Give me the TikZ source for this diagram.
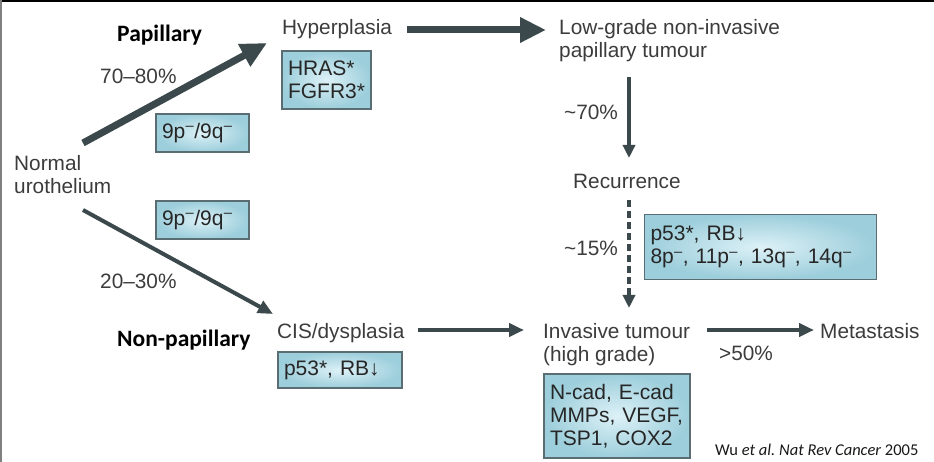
\documentclass[tikz,border=0pt]{standalone}
\usepackage{fontspec}
\setmainfont{Liberation Sans}
\newfontfamily\calfont{Carlito}
\usetikzlibrary{arrows.meta}
\definecolor{txt}{HTML}{3C3C3C}
\definecolor{arr}{HTML}{3B484C}
\definecolor{boxline}{HTML}{5A6D72}
\definecolor{boxin}{HTML}{DDF1F7}
\definecolor{boxout}{HTML}{9CCEDB}
\newcommand\supm{\textsuperscript{\kern0.3pt–}}
\tikzset{
  lbl/.style={font=\fontsize{20.8}{23}\selectfont, text=txt, inner sep=0pt, align=left, anchor=base west},
  bold/.style={font=\calfont\bfseries\fontsize{23.5}{26}\selectfont, text=black, inner sep=0pt, anchor=base west},
  gbox/.style={draw=boxline, line width=1.1pt, inner color=boxin, outer color=boxout,
    inner xsep=6pt, inner ysep=2pt, align=left, text=black!85,
    font=\fontsize{21}{23}\selectfont},
  fatarrow/.style={draw=arr, line width=7pt, -{Triangle[length=26pt,width=24pt]}},
  thinarrow/.style={draw=arr, line width=4pt, -{Triangle[length=15pt,width=13pt]}},
  midarrow/.style={draw=arr, line width=3.3pt, -{Triangle[length=13pt,width=12pt]}}
}
\begin{document}
\begin{tikzpicture}[x=1pt,y=-1pt]
\useasboundingbox (0,0) rectangle (934,462);
\fill[white] (0,0) rectangle (934,462);
\draw[black, line width=2.5pt] (0,1.25) -- (934,1.25);
\draw[gray, line width=1.5pt] (0.75,0) -- (0.75,462);

% labels (multi-line nodes: base = baseline of last line)
\node[lbl] (normal) at (14,194) {Normal\\urothelium};
\node[lbl] (hyper) at (282,35) {Hyperplasia};
\node[lbl] (lowgrade) at (559,58) {Low-grade non-invasive\\papillary tumour};
\node[lbl] (recur) at (573,189) {Recurrence};
\node[lbl] (cis) at (277,338) {CIS/dysplasia};
\node[lbl] (invasive) at (543,361) {Invasive tumour\\(high grade)};
\node[lbl] (meta) at (820,338) {Metastasis};
\node[lbl] (p7080) at (100,84) {70–80\%};
\node[lbl] (p2030) at (100,288) {20–30\%};
\node[lbl] (p70) at (564,120) {\textasciitilde70\%};
\node[lbl] (p15) at (564,256) {\textasciitilde15\%};
\node[lbl] (p50) at (719,360) {>50\%};
\node[bold] (pap) at (117,42) {Papillary};
\node[bold] (nonpap) at (117,346) {Non-papillary};
\node[font=\calfont\fontsize{16.5}{20}\selectfont, text=black!90, inner sep=0pt, anchor=base west] (ref) at (715,455) {Wu \textit{et al.}\kern-1pt{} \textit{Nat Rev Cancer} 2005};

% boxes
\node[gbox, minimum width=89pt, minimum height=58pt, text width=77pt] (bhras) at (326.5,80) {HRAS*\\FGFR3*};
\node[gbox, minimum width=93pt, minimum height=38pt, text width=81pt] (b9a) at (202.5,133) {9p\supm/9q\supm};
\node[gbox, minimum width=93pt, minimum height=38pt, text width=81pt] (b9b) at (202.5,220) {9p\supm/9q\supm};
\node[gbox, minimum width=124pt, minimum height=36pt, text width=112pt] (bp53a) at (340,370) {p53*, RB↓};
\node[gbox, minimum width=232pt, minimum height=65pt, text width=220pt] (bp53b) at (760.5,247) {p53*, RB↓\\8p\supm, 11p\supm, 13q\supm, 14q\supm};
\node[gbox, minimum width=146pt, minimum height=84pt, text width=134pt] (bncad) at (617,416) {N-cad, E-cad\\MMPs, VEGF,\\TSP1, COX2};

% connectors
\draw[fatarrow] ([shift={(69,-51)}]normal.base west) -- ([shift={(-15,8)}]hyper.base west);
\draw[fatarrow] ([shift={(125,-5)}]hyper.base west) -- ([shift={(-13,-28)}]lowgrade.base west);
\draw[midarrow] ([shift={(70,19)}]lowgrade.base west) -- ([shift={(56,-31)}]recur.base west);
\draw[midarrow, dash pattern=on 7pt off 4pt] ([shift={(56,11)}]recur.base west) -- ([shift={(86,-53)}]invasive.base west);
\draw[thinarrow] ([shift={(69,16)}]normal.base west) -- ([shift={(-4,-24)}]cis.base west);
\draw[thinarrow] ([shift={(141,-8)}]cis.base west) -- ([shift={(-19,-31)}]invasive.base west);
\draw[thinarrow] ([shift={(164,-31)}]invasive.base west) -- ([shift={(-6,-8)}]meta.base west);
\end{tikzpicture}
\end{document}
